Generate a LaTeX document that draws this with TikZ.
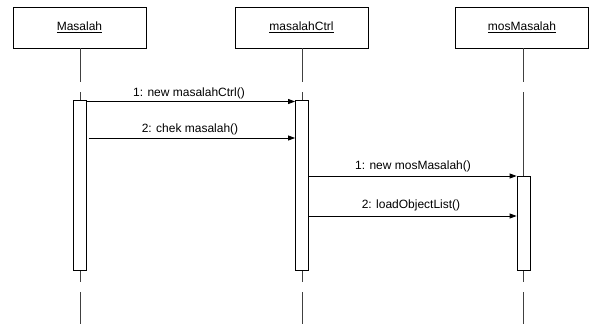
\documentclass[tikz,border=0pt]{standalone}
\usepackage{fontspec}
\setmainfont{Liberation Sans}
\usetikzlibrary{arrows.meta}
\begin{document}
\begin{tikzpicture}[x=1pt,y=-1pt,
  objbox/.style={draw, line width=0.8pt, minimum width=133pt, minimum height=41pt, inner sep=0pt, font=\fontsize{12}{14}\selectfont},
  actbox/.style={draw, fill=white, line width=0.8pt, minimum width=13pt, inner sep=0pt},
  life/.style={line width=0.8pt, draw=black!75},
  msg/.style={line width=0.8pt, -{Triangle[length=7pt,width=5pt]}},
  lbl/.style={font=\fontsize{12}{14}\selectfont, inner sep=0pt}]
\useasboundingbox (0,0) rectangle (589,324);

% objects
\node[objbox] (o1) at (79.5,27.5) {\underline{Masalah}};
\node[objbox] (o2) at (301.5,27.5) {\underline{masalahCtrl}};
\node[objbox] (o3) at (522,27.5) {\underline{mosMasalah}};

% activation bars (placed first for anchors, drawn over lifelines below)
\node[actbox, minimum height=170pt] (a1) at (80,185) {};
\node[actbox, minimum height=170pt] (a2) at (302,185) {};
\node[actbox, minimum height=94pt] (a3) at (523.5,223) {};

% lifelines
\coordinate (l1a) at (80,82);  \coordinate (l1b) at (80,92);
\coordinate (l1c) at (80,282); \coordinate (l1d) at (80,292); \coordinate (l1e) at (80,324);
\coordinate (l2a) at (302,82);  \coordinate (l2b) at (302,92);
\coordinate (l2c) at (302,282); \coordinate (l2d) at (302,292); \coordinate (l2e) at (302,324);
\coordinate (l3a) at (523.5,82);  \coordinate (l3b) at (523.5,92);
\coordinate (l3c) at (523.5,282); \coordinate (l3d) at (523.5,292); \coordinate (l3e) at (523.5,324);

\draw[life] (o1.south -| l1a) -- (l1a) (l1b) -- (a1.north) (a1.south) -- (l1c) (l1d) -- (l1e);
\draw[life] (o2.south -| l2a) -- (l2a) (l2b) -- (a2.north) (a2.south) -- (l2c) (l2d) -- (l2e);
\draw[life] (o3.south -| l3a) -- (l3a) (l3b) -- (l3c) (l3d) -- (l3e);

% redraw activation bars on top
\node[actbox, minimum height=170pt] at (a1) {};
\node[actbox, minimum height=170pt] at (a2) {};
\node[actbox, minimum height=94pt] at (a3) {};

% messages
\draw[msg] (a1.east |- 0,101.5) -- (a2.west |- 0,101.5);
\node[lbl] (m1) at (189,93) {1: new masalahCtrl()};
\draw[msg] ([xshift=2pt]a1.east |- 0,138) -- (a2.west |- 0,138);
\node[lbl] (m2) at (190,129) {2: chek masalah()};
\draw[msg] (a2.east |- 0,176) -- (a3.west |- 0,176);
\node[lbl] (m3) at (413,166) {1: new mosMasalah()};
\draw[msg] (a2.east |- 0,216) -- (a3.west |- 0,216);
\node[lbl] (m4) at (411,205) {2: loadObjectList()};
\end{tikzpicture}
\end{document}
